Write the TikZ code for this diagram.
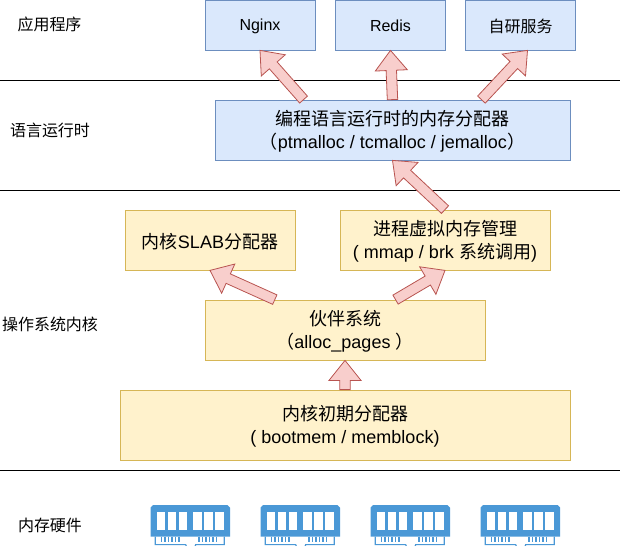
\documentclass[tikz,border=0pt]{standalone}
\usepackage{fontspec}
\setmainfont{Liberation Sans}
\newfontfamily\cjk{Noto Sans CJK SC}
\usetikzlibrary{calc}
\definecolor{bluefill}{HTML}{DAE8FC}
\definecolor{blueline}{HTML}{6C8EBF}
\definecolor{yellowfill}{HTML}{FFF2CC}
\definecolor{yellowline}{HTML}{D6B656}
\definecolor{arrowfill}{HTML}{F8CECC}
\definecolor{arrowline}{HTML}{B85450}
\definecolor{ramblue}{HTML}{4A98D6}
\tikzset{
    bigtext/.style={font=\fontsize{18}{22.5}\selectfont, align=center, inner sep=0pt, yshift=-1.4pt},
    smalltext/.style={font=\fontsize{16}{20}\selectfont, align=center, inner sep=0pt},
    bluebox/.style={draw=blueline, fill=bluefill, line width=.8pt},
    yellowbox/.style={draw=yellowline, fill=yellowfill, line width=.8pt},
    blockarrow/.style={draw=arrowline, fill=arrowfill, line width=.8pt, line join=miter},
    ramstick/.pic={
        % board with its six windows
        \fill[ramblue] (.5,2.5)--(3,0)--(77.5,0)--(80,2.5)--(80,31.7)--(.5,31.7)--cycle;
        \foreach \x in {6.7,17.7,28.7,43.3,54.3,65.3}
            \fill[white] (\x,6.7) rectangle +(8.4,18.3);
        % contacts
        \draw[ramblue, line width=1.2pt] (5.2,31.7)--(5.2,39.6)--(35.7,39.6) arc(180:0:5 and 5.6)--(74.3,39.6)--(74.3,31.7);
        \foreach \x in {11.5,15,...,30,49,52.5,...,67}
            \draw[ramblue, line width=1.5pt] (\x,31.7)--(\x,36.7);
    }
}
% block arrow from tail to tip
\newcommand{\blockarrow}[2]{
    \coordinate (tail) at #1;
    \coordinate (tip) at #2;
    \coordinate (neck) at ($(tip)!20pt!(tail)$);
    \draw[blockarrow] ($(tail)!5.2pt!90:(tip)$)--($(neck)!5.2pt!90:(tip)$)--($(neck)!16pt!90:(tip)$)--(tip)
        --($(neck)!16pt!-90:(tip)$)--($(neck)!5.2pt!-90:(tip)$)--($(tail)!5.2pt!-90:(tip)$)--cycle;
}
\begin{document}
\begin{tikzpicture}[x=1pt, y=-1pt]
\useasboundingbox (0,0) rectangle (622,546);
% layer separators
\foreach \y in {80,190,470}
    \draw[line width=.8pt] (0,\y)--(620,\y);
% layer names
\node[smalltext] (apps) at (49.5,24) {\cjk 应用程序};
\node[smalltext] (runtime) at (50,130) {\cjk 语言运行时};
\node[smalltext] (kernel) at (50,324) {\cjk 操作系统内核};
\node[smalltext] (hardware) at (50,525) {\cjk 内存硬件};
% boxes
\node[bluebox, minimum width=110pt, minimum height=49.5pt, label={[smalltext, yshift=-.7pt]center:Nginx}] (nginx) at (260,25.25) {};
\node[bluebox, minimum width=110pt, minimum height=49.5pt, label={[smalltext, yshift=-.7pt]center:Redis}] (redis) at (390.5,25.25) {};
\node[bluebox, minimum width=110pt, minimum height=49.5pt, label={[smalltext, yshift=-.7pt]center:{\cjk 自研服务}}] (own) at (520.5,25.25) {};
\node[bluebox, minimum width=355pt, minimum height=60pt,
    label={[bigtext]center:{{\cjk 编程语言运行时的内存分配器}\\{\cjk （}ptmalloc / tcmalloc / jemalloc{\cjk ）}}}] (lang) at (392.5,130) {};
\node[yellowbox, minimum width=170pt, minimum height=60pt,
    label={[bigtext]center:{{\cjk 内核}SLAB{\cjk 分配器}}}] (slab) at (210,240) {};
\node[yellowbox, minimum width=210pt, minimum height=60pt,
    label={[bigtext]center:{{\cjk 进程虚拟内存管理}\\( mmap / brk {\cjk 系统调用})}}] (vmm) at (445,240) {};
\node[yellowbox, minimum width=280pt, minimum height=60pt,
    label={[bigtext]center:{{\cjk 伙伴系统}\\{\cjk （}alloc\_pages {\cjk ）}}}] (buddy) at (345,330) {};
\node[yellowbox, minimum width=450pt, minimum height=70pt,
    label={[bigtext]center:{{\cjk 内核初期分配器}\\( bootmem / memblock)}}] (boot) at (345,425) {};
% allocators stacked on each other
\blockarrow{($(lang.north west)!.25!(lang.north east)$)}{(nginx.south)}
\blockarrow{(lang.north)}{(redis.south)}
\blockarrow{($(lang.north west)!.75!(lang.north east)$)}{($(own.south)+(7,0)$)}
\blockarrow{(vmm.north)}{(lang.south)}
\blockarrow{($(buddy.north west)!.25!(buddy.north east)$)}{(slab.south)}
\blockarrow{($(buddy.north west)!.68!(buddy.north east)$)}{(vmm.south)}
\blockarrow{(boot.north)}{(buddy.south)}
% memory sticks
\foreach \x in {150,260,370,480}
    \pic at (\x,505) {ramstick};
\end{tikzpicture}
\end{document}
